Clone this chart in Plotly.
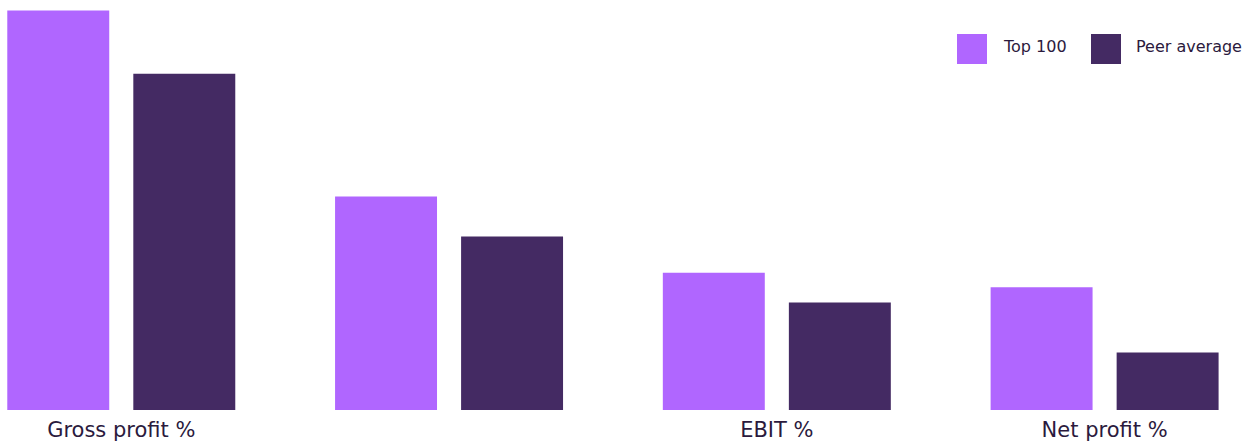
import plotly.graph_objects as go

categories = ["Gross profit %", "EBITDA %", "EBIT %", "Net profit %"]
tick_labels = ["Gross profit %", "", "EBIT %", "Net profit %"]
top100 = [55.0, 29.4, 18.9, 16.9]
peer_avg = [46.3, 23.9, 14.8, 7.9]
series_names = ["Top 100", "Peer average"]
colors = ["#B066FF", "#442A63"]
text_color = "#2B1A3D"
FONT = "DejaVu Sans"

fig = go.Figure()
fig.add_trace(go.Bar(x=categories, y=top100, name=series_names[0],
                     marker=dict(color=colors[0], line=dict(width=0)), showlegend=False))
fig.add_trace(go.Bar(x=categories, y=peer_avg, name=series_names[1],
                     marker=dict(color=colors[1], line=dict(width=0)), showlegend=False))

# custom legend swatches + labels
sw = [(957, 987), (1091, 1121)]
lx = [1001, 1134]
W, H = 1258, 443
PH = H - 33
for i in range(2):
    fig.add_shape(type="rect", xref="paper", yref="paper",
                  x0=sw[i][0] / W, x1=sw[i][1] / W,
                  y0=(PH - 64) / PH, y1=(PH - 34) / PH,
                  fillcolor=colors[i], line=dict(width=0), layer="above")
    fig.add_annotation(xref="paper", yref="paper", x=lx[i] / W, y=(PH - 47) / PH,
                       text=series_names[i], showarrow=False, xanchor="left", yanchor="middle",
                       font=dict(family=FONT, size=16, color=text_color))

fig.update_layout(
    width=W, height=H,
    margin=dict(l=0, r=0, t=0, b=33),
    paper_bgcolor="white", plot_bgcolor="white",
    barmode="group", bargap=0.231, bargroupgap=0.191,
    font=dict(family=FONT, color=text_color),
)
fig.update_xaxes(range=[-0.370, 3.468], tickmode="array", tickvals=categories, ticktext=tick_labels,
                 tickfont=dict(size=21, color=text_color, family=FONT), ticklabelstandoff=5,
                 showgrid=False, zeroline=False, showline=False, ticks="")
fig.update_yaxes(range=[0, 56.44], visible=False, showgrid=False, zeroline=False)

fig.write_html("out.html")
